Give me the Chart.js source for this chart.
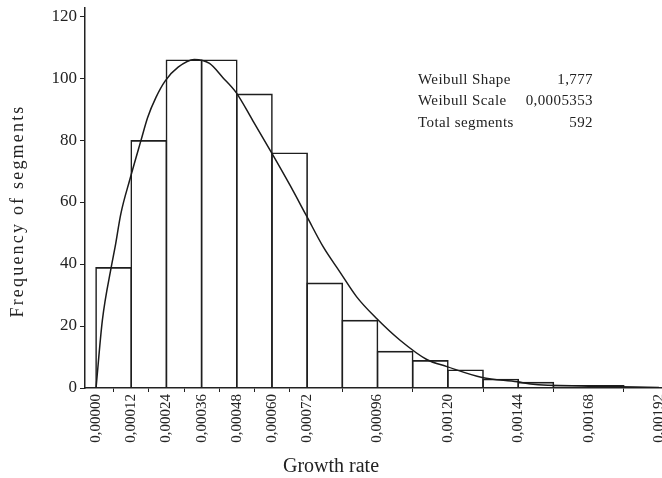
<!DOCTYPE html>
<html>
<head>
<meta charset="utf-8">
<script src="https://cdn.jsdelivr.net/npm/chart.js@4.4.0/dist/chart.umd.min.js"></script>
<style>
    html, body { margin: 0; padding: 0; background: #fff; }
</style>
</head>
<body>
<canvas id="chart" width="662" height="478"></canvas>
<script>
// histogram bins (lower edge) and counts
const binWidth = 0.00012;
const binStart = [0, 0.00012, 0.00024, 0.00036, 0.00048, 0.00060, 0.00072, 0.00084,
                  0.00096, 0.00108, 0.00120, 0.00132, 0.00144, 0.00156, 0.00168, 0.00180];
const frequencies = [39, 80, 106, 106, 95, 76, 34, 22, 12, 9, 6, 3, 2, 1, 1, 0];

// fitted Weibull curve
const curveX = [0, 0.0000216, 0.0000524, 0.000065, 0.0000845, 0.000116, 0.000153, 0.000176,
                0.000204, 0.000236, 0.000280, 0.000335, 0.000387, 0.000432, 0.000478, 0.000535,
                0.000598, 0.000661, 0.000718, 0.000775, 0.000832, 0.000889, 0.000957, 0.001037,
                0.001128, 0.001197, 0.001317, 0.001437, 0.001482, 0.00168, 0.00192];
const curveY = [0, 21.9, 39.3, 45.5, 56.2, 67.5, 79.8, 87.3,
                93.7, 99.1, 103.5, 106, 104.7, 100.2, 95.3, 86.2,
                76.0, 65.5, 55.5, 45.5, 37.4, 29.4, 22.4, 15.4,
                9.2, 6.9, 3.4, 2.0, 1.3, 0.6, 0.15];

const xTickValues = [0, 0.00012, 0.00024, 0.00036, 0.00048, 0.00060, 0.00072,
                     0.00096, 0.00120, 0.00144, 0.00168, 0.00192];
const yTickValues = [0, 20, 40, 60, 80, 100, 120];

const statLabels = ['Weibull Shape', 'Weibull Scale', 'Total segments'];
const statValues = ['1,777', '0,0005353', '592'];

const xTitle = 'Growth rate';
const yTitle = 'Frequency of segments';

const ink = '#222';
const serif = '"Liberation Serif", "Times New Roman", serif';

const barPoints = binStart.map((s, i) => ({ x: s + binWidth / 2, y: frequencies[i] }));
const curvePoints = curveX.map((x, i) => ({ x: x, y: curveY[i] }));

// stats box and axis titles
const textPlugin = {
    id: 'textPlugin',
    afterDraw(chart) {
        const c = chart.ctx;
        c.save();
        c.fillStyle = ink;
        c.textBaseline = 'middle';
        c.font = '15px ' + serif;
        c.letterSpacing = '0.4px';
        const rows = [80, 101.5, 123];
        statLabels.forEach((t, i) => {
            c.textAlign = 'left';
            c.fillText(t, 418, rows[i]);
            c.textAlign = 'right';
            c.fillText(statValues[i], 593, rows[i]);
        });

        c.letterSpacing = '0px';
        c.font = '20px ' + serif;
        c.textAlign = 'center';
        c.fillText(xTitle, 331, 467);

        c.translate(18, 211);
        c.rotate(-Math.PI / 2);
        c.font = '18px ' + serif;
        c.letterSpacing = '2.2px';
        c.fillText(yTitle, 0, 0);
        c.restore();
    }
};

new Chart(document.getElementById('chart').getContext('2d'), {
    type: 'bar',
    data: {
        datasets: [
            {
                type: 'line',
                data: curvePoints,
                borderColor: '#1a1a1a',
                borderWidth: 1.5,
                pointRadius: 0,
                cubicInterpolationMode: 'monotone',
                fill: false,
                order: 0
            },
            {
                type: 'bar',
                data: barPoints,
                backgroundColor: 'rgba(255,255,255,0)',
                borderColor: '#1e1e1e',
                borderWidth: 1.6,
                // slightly wider than the bin so neighbouring edges share one line
                barPercentage: 1.046,
                categoryPercentage: 1,
                order: 1
            }
        ]
    },
    options: {
        responsive: false,
        animation: false,
        layout: { padding: { left: 0, right: 1, top: 8, bottom: 0 } },
        plugins: { legend: { display: false }, tooltip: { enabled: false } },
        scales: {
            x: {
                type: 'linear',
                offset: false,
                min: -0.0000377,
                max: 0.001927,
                afterBuildTicks: s => { s.ticks = xTickValues.map(v => ({ value: v })); },
                afterFit: s => { s.height = 90; s.paddingLeft = 0; s.paddingRight = 0; },
                ticks: {
                    autoSkip: false,
                    minRotation: 90,
                    maxRotation: 90,
                    padding: 2,
                    color: ink,
                    font: { family: serif, size: 15 },
                    callback: v => v.toFixed(5).replace('.', ',')
                },
                grid: { drawOnChartArea: false, tickLength: 4, color: ink, lineWidth: 1 },
                border: { color: ink, width: 1.5 }
            },
            y: {
                min: 0,
                max: 122.6,
                afterBuildTicks: s => { s.ticks = yTickValues.map(v => ({ value: v })); },
                afterFit: s => { s.width = 85; s.paddingTop = 0; s.paddingBottom = 0; },
                ticks: {
                    padding: 3,
                    color: ink,
                    font: { family: serif, size: 17 }
                },
                grid: { drawOnChartArea: false, tickLength: 5, color: ink, lineWidth: 1 },
                border: { color: ink, width: 1.5 }
            }
        }
    },
    plugins: [textPlugin]
});
</script>
</body>
</html>
